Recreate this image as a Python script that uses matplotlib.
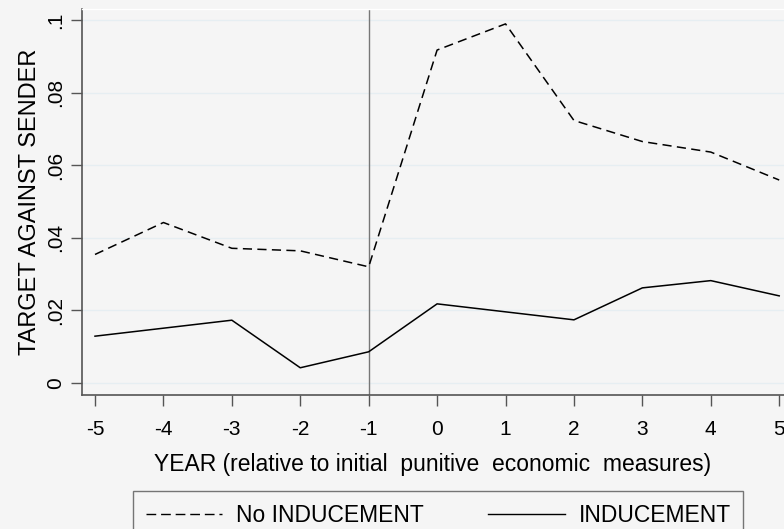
import matplotlib.pyplot as plt
from matplotlib.lines import Line2D

plt.rcParams['font.family'] = ['Liberation Sans', 'DejaVu Sans']

years = [-5, -4, -3, -2, -1, 0, 1, 2, 3, 4, 5]
no_inducement = [0.0354, 0.0442, 0.0371, 0.0364, 0.0320, 0.0917, 0.0989,
                 0.0723, 0.0665, 0.0636, 0.0559]
inducement = [0.0129, 0.0151, 0.0173, 0.0042, 0.0086, 0.0218, 0.0196,
              0.0174, 0.0262, 0.0282, 0.0240]
yticks = [0, 0.02, 0.04, 0.06, 0.08, 0.1]
ytick_labels = ['0', '.02', '.04', '.06', '.08', '.1']

bg = '#f5f5f5'
fig = plt.figure(figsize=(7.84, 5.29), dpi=100, facecolor=bg)
ax = fig.add_axes([82 / 784, 1 - 395 / 529, 1 - 82 / 784, 386 / 529])
ax.set_facecolor(bg)

# faint grid + reference line at year -1
for y in yticks:
    ax.axhline(y, color='#e6eef2', lw=1.0, zorder=0)
ax.axvline(-1, color='#777777', lw=1.0, zorder=1)

ax.plot(years, no_inducement, color='black', lw=1.1, dashes=(6, 3.5), label='No INDUCEMENT')
ax.plot(years, inducement, color='black', lw=1.1, label='INDUCEMENT')

ax.set_xlim(-5.19, 5.07)
ax.set_ylim(-0.0033, 0.103)
ax.set_xticks(years)
ax.set_xticklabels([str(y) for y in years], fontsize=15)
ax.set_yticks(yticks)
ax.set_yticklabels(ytick_labels, fontsize=15, rotation=90, va='center')
ax.tick_params(direction='out', length=8, width=1, color='#555555')
ax.tick_params(axis='x', pad=10)
ax.tick_params(axis='y', pad=4)

ax.spines['right'].set_visible(False)
ax.spines['top'].set_color('white')
ax.spines['top'].set_linewidth(1.0)
for s in ['left', 'bottom']:
    ax.spines[s].set_color('#555555')
    ax.spines[s].set_linewidth(1.2)

ax.set_xlabel('YEAR (relative to initial  punitive  economic  measures)', fontsize=16.5, labelpad=10)
ax.set_ylabel('TARGET AGAINST SENDER', fontsize=17, labelpad=4)

handles = [Line2D([], [], color='black', lw=1.0, dashes=(7, 3.5)),
           Line2D([], [], color='black', lw=1.0)]
leg = fig.legend(handles, ['No INDUCEMENT', 'INDUCEMENT'], loc='upper left',
                 bbox_to_anchor=(133 / 784, 1 - 491 / 529), ncol=2, fontsize=16.5,
                 fancybox=False, frameon=True, handlelength=3.35, handletextpad=0.6,
                 columnspacing=2.8, borderpad=0.55, borderaxespad=0)
leg.get_frame().set_facecolor(bg)
leg.get_frame().set_edgecolor('#555555')
leg.get_frame().set_linewidth(1.0)

fig.savefig('out.png', dpi=100, facecolor=bg)
